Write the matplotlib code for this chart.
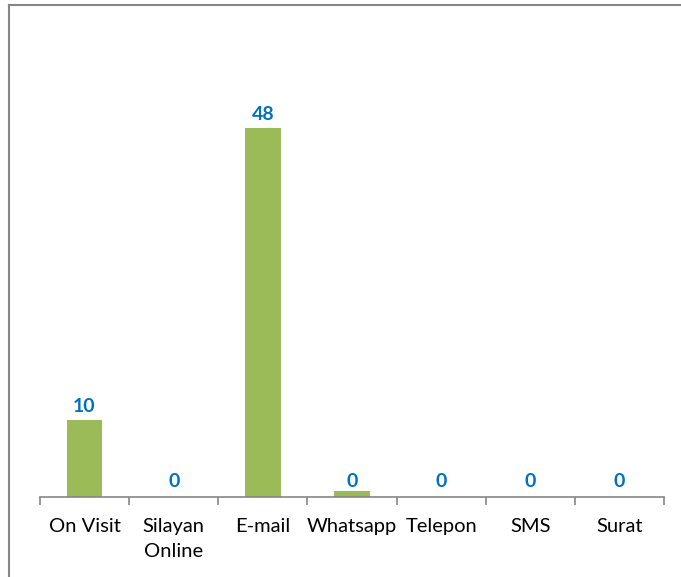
import matplotlib.pyplot as plt
from matplotlib.lines import Line2D

categories = ['On Visit', 'Silayan\nOnline', 'E-mail', 'Whatsapp', 'Telepon', 'SMS', 'Surat']
values = [10, 0, 48, 0.8, 0, 0, 0]
value_labels = ['10', '0', '48', '0', '0', '0', '0']

plt.rcParams['font.family'] = ['Lato', 'DejaVu Sans']

fig = plt.figure(figsize=(6.81, 5.77), dpi=100)
ax = fig.add_axes([40 / 681, 80 / 577, 624 / 681, 461 / 577])

x = list(range(len(categories)))
ax.bar(x, values, width=0.4, color='#9BBB59')

for xi, v, lab in zip(x, values, value_labels):
    # tiny bars get their label at the same height as the zero ones
    y = v + 0.7 if v >= 1 else 0.9
    ax.text(xi, y, lab, ha='center', va='bottom', color='#0070C0',
            fontsize=14, fontweight='bold')

ax.set_xlim(-0.5, len(categories) - 0.5)
ax.set_ylim(0, 60)
ax.set_yticks([])
for s in ['top', 'right', 'left']:
    ax.spines[s].set_visible(False)
ax.spines['bottom'].set_color('#868686')
ax.spines['bottom'].set_linewidth(1.2)

ax.set_xticks(x)
ax.set_xticklabels(categories, fontsize=14.5, color='#000000', linespacing=1.55)
ax.tick_params(axis='x', which='major', length=0, pad=15)
ax.set_xticks([i - 0.5 for i in range(len(categories) + 1)], minor=True)
ax.tick_params(axis='x', which='minor', length=6, width=1.2, color='#868686')

# outer frame of the chart area
fig.add_artist(Line2D([9 / 681, 9 / 681], [0, 1 - 5 / 577], transform=fig.transFigure,
                      color='#868686', lw=1.5))
fig.add_artist(Line2D([9 / 681, 1], [1 - 5 / 577, 1 - 5 / 577], transform=fig.transFigure,
                      color='#868686', lw=1.5))

fig.savefig('out.png', dpi=100)
